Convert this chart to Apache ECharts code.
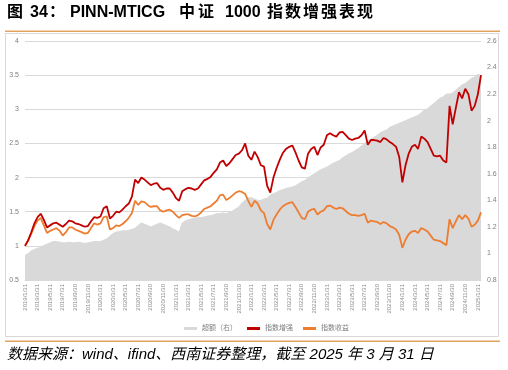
<!DOCTYPE html>
<html>
<head>
<meta charset="utf-8">
<script src="https://cdn.jsdelivr.net/npm/echarts@6/dist/echarts.min.js"></script>
<style>html,body{margin:0;padding:0;background:#fff;}#c{width:508px;height:370px;}</style>
</head>
<body>
<div id="c"></div>
<script>
// ---- data ----
const categories = [
"2019/1/31","2019/2/15","2019/2/28","2019/3/15","2019/3/31","2019/4/15","2019/4/30","2019/5/15","2019/5/31","2019/6/15","2019/6/30","2019/7/15","2019/7/31","2019/8/15","2019/8/31","2019/9/15","2019/9/30","2019/10/15","2019/10/31","2019/11/15","2019/11/30","2019/12/15","2019/12/31","2020/1/15",
"2020/1/31","2020/2/15","2020/2/29","2020/3/15","2020/3/31","2020/4/15","2020/4/30","2020/5/15","2020/5/31","2020/6/15","2020/6/30","2020/7/15","2020/7/31","2020/8/15","2020/8/31","2020/9/15","2020/9/30","2020/10/15","2020/10/31","2020/11/15","2020/11/30","2020/12/15","2020/12/31","2021/1/15",
"2021/1/31","2021/2/15","2021/2/28","2021/3/15","2021/3/31","2021/4/15","2021/4/30","2021/5/15","2021/5/31","2021/6/15","2021/6/30","2021/7/15","2021/7/31","2021/8/15","2021/8/31","2021/9/15","2021/9/30","2021/10/15","2021/10/31","2021/11/15","2021/11/30","2021/12/15","2021/12/31","2022/1/15",
"2022/1/31","2022/2/15","2022/2/28","2022/3/15","2022/3/31","2022/4/15","2022/4/30","2022/5/15","2022/5/31","2022/6/15","2022/6/30","2022/7/15","2022/7/31","2022/8/15","2022/8/31","2022/9/15","2022/9/30","2022/10/15","2022/10/31","2022/11/15","2022/11/30","2022/12/15","2022/12/31","2023/1/15",
"2023/1/31","2023/2/15","2023/2/28","2023/3/15","2023/3/31","2023/4/15","2023/4/30","2023/5/15","2023/5/31","2023/6/15","2023/6/30","2023/7/15","2023/7/31","2023/8/15","2023/8/31","2023/9/15","2023/9/30","2023/10/15","2023/10/31","2023/11/15","2023/11/30","2023/12/15","2023/12/31","2024/1/15",
"2024/1/31","2024/2/15","2024/2/29","2024/3/15","2024/3/31","2024/4/15","2024/4/30","2024/5/15","2024/5/31","2024/6/15","2024/6/30","2024/7/15","2024/7/31","2024/8/15","2024/8/31","2024/9/15","2024/9/30","2024/10/15","2024/10/31","2024/11/15","2024/11/30","2024/12/15","2024/12/31","2025/1/15",
"2025/1/31","2025/2/15"
];

const excessValues = [
0.985,1.00,1.02,1.03,1.04,1.045,1.06,1.07,1.08,1.09,
1.09,1.085,1.08,1.08,1.085,1.08,1.08,1.085,1.08,1.075,
1.08,1.085,1.09,1.09,1.09,1.10,1.11,1.13,1.15,1.16,
1.165,1.17,1.17,1.175,1.18,1.19,1.21,1.23,1.22,1.21,
1.20,1.21,1.22,1.23,1.22,1.21,1.20,1.185,1.175,1.16,
1.23,1.245,1.255,1.26,1.265,1.27,1.27,1.275,1.28,1.285,
1.29,1.30,1.30,1.305,1.30,1.31,1.32,1.335,1.35,1.38,
1.40,1.42,1.42,1.41,1.40,1.40,1.41,1.415,1.44,1.45,
1.46,1.475,1.48,1.49,1.495,1.50,1.51,1.525,1.54,1.55,
1.57,1.585,1.60,1.615,1.63,1.64,1.65,1.665,1.68,1.69,
1.70,1.72,1.735,1.75,1.76,1.775,1.79,1.81,1.83,1.85,
1.86,1.875,1.89,1.91,1.92,1.93,1.95,1.96,1.97,1.98,
1.99,2.00,2.01,2.02,2.03,2.04,2.06,2.08,2.09,2.11,
2.13,2.15,2.17,2.18,2.20,2.20,2.21,2.23,2.25,2.27,
2.28,2.30,2.32,2.33,2.35,2.34
];

const enhancedValues = [
1.00,1.08,1.20,1.33,1.42,1.47,1.38,1.27,1.30,1.33,
1.34,1.31,1.28,1.32,1.37,1.36,1.33,1.32,1.30,1.28,
1.29,1.36,1.42,1.41,1.43,1.55,1.58,1.40,1.44,1.50,
1.49,1.53,1.58,1.62,1.72,1.97,1.92,2.00,1.97,1.93,
1.89,1.91,1.92,1.85,1.82,1.84,1.84,1.78,1.70,1.66,
1.80,1.83,1.85,1.84,1.82,1.84,1.90,1.96,1.98,2.01,
2.07,2.12,2.22,2.25,2.17,2.21,2.27,2.33,2.35,2.40,
2.50,2.32,2.26,2.38,2.30,2.18,2.16,1.88,1.78,2.00,
2.14,2.26,2.36,2.42,2.45,2.47,2.37,2.25,2.15,2.13,
2.35,2.42,2.45,2.33,2.44,2.48,2.62,2.65,2.62,2.60,
2.66,2.67,2.62,2.57,2.55,2.57,2.58,2.62,2.69,2.48,
2.55,2.55,2.54,2.52,2.58,2.56,2.52,2.49,2.45,2.30,
1.93,2.18,2.35,2.45,2.48,2.42,2.60,2.57,2.52,2.42,
2.32,2.31,2.32,2.25,2.22,3.05,2.78,3.02,3.25,3.16,
3.30,3.22,2.98,3.05,3.22,3.50
];

const indexValues = [
1.00,1.08,1.18,1.29,1.37,1.41,1.30,1.19,1.22,1.24,
1.26,1.22,1.15,1.20,1.27,1.27,1.24,1.22,1.20,1.18,
1.19,1.26,1.33,1.31,1.33,1.42,1.43,1.24,1.26,1.30,
1.29,1.32,1.36,1.41,1.48,1.66,1.60,1.65,1.64,1.60,
1.57,1.58,1.58,1.52,1.50,1.52,1.53,1.50,1.45,1.41,
1.45,1.46,1.46,1.44,1.43,1.45,1.49,1.54,1.56,1.58,
1.62,1.66,1.74,1.75,1.67,1.70,1.74,1.78,1.80,1.79,
1.76,1.66,1.57,1.66,1.62,1.52,1.48,1.32,1.24,1.38,
1.46,1.53,1.58,1.61,1.63,1.64,1.57,1.49,1.41,1.39,
1.50,1.53,1.54,1.46,1.50,1.52,1.58,1.59,1.56,1.54,
1.56,1.55,1.51,1.47,1.45,1.45,1.44,1.45,1.47,1.34,
1.37,1.36,1.35,1.32,1.35,1.33,1.29,1.27,1.24,1.16,
0.97,1.09,1.17,1.21,1.22,1.19,1.26,1.24,1.21,1.15,
1.09,1.08,1.07,1.04,1.01,1.39,1.26,1.36,1.45,1.39,
1.45,1.40,1.28,1.31,1.37,1.49
];

const seriesNames = ["超额（右）", "指数增强", "指数收益"];
const leftTicks = { min: 0.5, max: 4, interval: 0.5 };
const rightTicks = { min: 0.8, max: 2.6, interval: 0.2 };
const sourceText = "数据来源：wind、ifind、西南证券整理，截至 2025 年 3 月 31 日";

// ---- chart ----
const chart = echarts.init(document.getElementById('c'), null, { renderer: 'canvas' });
const axisFont = '"Liberation Sans","Noto Sans CJK SC",sans-serif';
const titleFont = '"Liberation Sans","Noto Sans CJK SC",sans-serif';

const titlePieces = [
  { t: "图", x: 7 },
  { t: "34", x: 30 },
  { t: "：", x: 49 },
  { t: "PINN-MTICG", x: 70 },
  { t: "中", x: 179 },
  { t: "证", x: 198 },
  { t: "1000", x: 225 },
  { t: "指", x: 267 },
  { t: "数", x: 285 },
  { t: "增", x: 303 },
  { t: "强", x: 321 },
  { t: "表", x: 339 },
  { t: "现", x: 357 }
];

const graphics = titlePieces.map(p => ({
  type: 'text', left: p.x, top: 5,
  style: { text: p.t, font: 'bold 16px ' + titleFont, fill: '#000' }
}));
graphics.push(
  { type: 'rect', shape: { x: 5, y: 30.5, width: 495, height: 1.5 }, style: { fill: '#E0A45E' } },
  { type: 'rect', shape: { x: 5.5, y: 33.5, width: 493, height: 303 }, style: { fill: 'none', stroke: '#D9D9D9', lineWidth: 1 } },
  { type: 'rect', shape: { x: 5, y: 340.5, width: 495, height: 1.5 }, style: { fill: '#E0A45E' } },
  { type: 'text', left: 7, top: 347, style: { text: sourceText, font: 'italic 15px ' + titleFont, fill: '#000' } }
);

chart.setOption({
  animation: false,
  backgroundColor: '#fff',
  grid: { left: 25, right: 27, top: 41, bottom: 90 },
  legend: {
    data: seriesNames, left: 179, top: 320, icon: 'rect',
    itemWidth: 13, itemHeight: 3, itemGap: 10,
    textStyle: { fontSize: 7, color: '#7F7F7F', fontFamily: axisFont }
  },
  xAxis: {
    type: 'category', data: categories, boundaryGap: false,
    axisLine: { show: true, lineStyle: { color: '#D9D9D9' } },
    axisTick: { show: false },
    splitLine: { show: false },
    axisLabel: { interval: 3, rotate: 90, fontSize: 6, color: '#8C8C8C', margin: 4, fontFamily: axisFont }
  },
  yAxis: [
    {
      type: 'value', min: leftTicks.min, max: leftTicks.max, interval: leftTicks.interval,
      axisLine: { show: false }, axisTick: { show: false },
      splitLine: { show: true, lineStyle: { color: '#D9D9D9', width: 1 } },
      axisLabel: { fontSize: 7, color: '#7F7F7F', margin: 6, fontFamily: axisFont }
    },
    {
      type: 'value', min: rightTicks.min, max: rightTicks.max, interval: rightTicks.interval,
      axisLine: { show: false }, axisTick: { show: false },
      splitLine: { show: false },
      axisLabel: { fontSize: 7, color: '#7F7F7F', margin: 6, fontFamily: axisFont,
        formatter: v => String(Math.round(v * 10) / 10) }
    }
  ],
  series: [
    {
      name: seriesNames[0], type: 'line', yAxisIndex: 1, data: excessValues,
      symbol: 'none', z: 1,
      itemStyle: { color: '#D9D9D9' },
      lineStyle: { color: '#D9D9D9', width: 1 },
      areaStyle: { color: '#D9D9D9', opacity: 1, origin: 'start' }
    },
    {
      name: seriesNames[1], type: 'line', yAxisIndex: 0, data: enhancedValues,
      symbol: 'none', z: 3,
      itemStyle: { color: '#C00000' },
      lineStyle: { color: '#C00000', width: 1.8 }
    },
    {
      name: seriesNames[2], type: 'line', yAxisIndex: 0, data: indexValues,
      symbol: 'none', z: 2,
      itemStyle: { color: '#ED7D31' },
      lineStyle: { color: '#ED7D31', width: 1.8 }
    }
  ],
  graphic: graphics
});
</script>
</body>
</html>
